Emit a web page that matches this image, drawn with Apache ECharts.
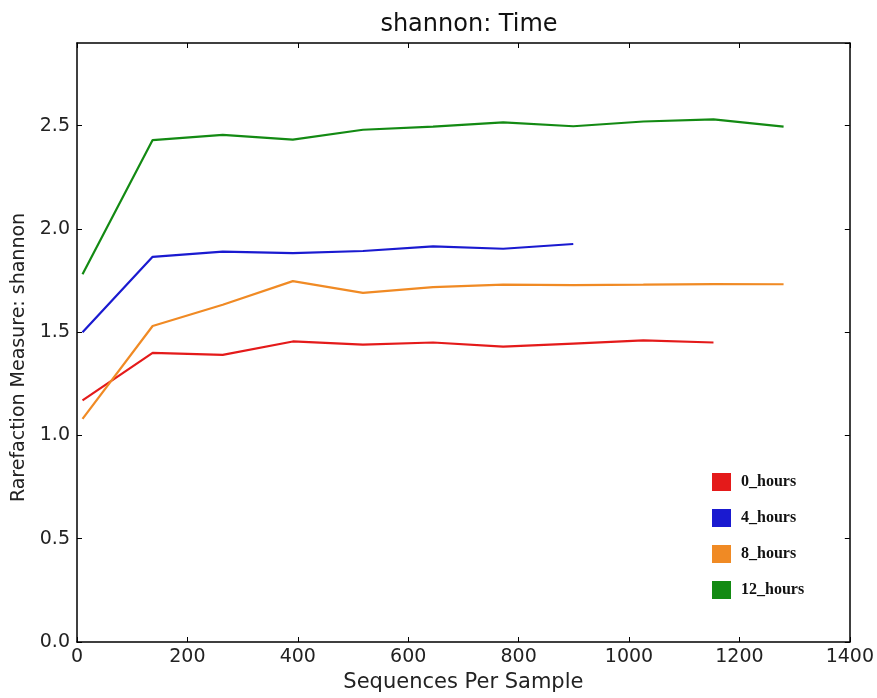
<!DOCTYPE html>
<html>
<head>
<meta charset="utf-8">
<script src="https://cdn.jsdelivr.net/npm/echarts@6/dist/echarts.min.js"></script>
<style>html,body{margin:0;padding:0;background:#fff}#c{width:877px;height:698px}</style>
</head>
<body>
<div id="c"></div>
<script>
var xValues = [10, 137, 264, 391, 518, 645, 772, 899, 1026, 1153, 1280];
var seriesNames = ['0_hours', '4_hours', '8_hours', '12_hours'];
var hours0 = [1.17, 1.40, 1.39, 1.455, 1.44, 1.45, 1.43, 1.445, 1.46, 1.45];
var hours4 = [1.50, 1.865, 1.89, 1.883, 1.893, 1.915, 1.904, 1.927];
var hours8 = [1.08, 1.53, 1.633, 1.747, 1.69, 1.718, 1.73, 1.728, 1.73, 1.733, 1.732];
var hours12 = [1.78, 2.43, 2.455, 2.432, 2.48, 2.495, 2.516, 2.497, 2.52, 2.53, 2.495];
var seriesColors = ['#e41a1a', '#1a1ad0', '#f08a24', '#138a13'];

function pairs(vals) { return vals.map(function (v, i) { return [xValues[i], v]; }); }
var allVals = [hours0, hours4, hours8, hours12];

var chart = echarts.init(document.getElementById('c'));
var labelFont = { fontFamily: 'DejaVu Sans', fontSize: 19, color: '#222' };
var line = { show: true, onZero: false, lineStyle: { color: '#000', width: 1.5 } };
var tick = { show: true, inside: true, length: 5, lineStyle: { color: '#000', width: 1 } };

chart.setOption({
  animation: false,
  backgroundColor: '#fff',
  title: {
    text: 'shannon: Time', left: 464, top: 8, textAlign: 'center',
    textStyle: { fontFamily: 'DejaVu Sans', fontSize: 24, fontWeight: 'normal', color: '#111' }
  },
  grid: { left: 77, right: 24, top: 43, bottom: 55, containLabel: false },
  legend: {
    orient: 'vertical', left: 707, top: 468, itemWidth: 19, itemHeight: 18, itemGap: 18,
    icon: 'rect', data: seriesNames,
    textStyle: { fontFamily: 'Liberation Serif', fontWeight: 'bold', fontSize: 16, color: '#111', padding: [0, 0, 0, 5] }
  },
  xAxis: [{
    type: 'value', min: 0, max: 1400, interval: 200, position: 'bottom',
    name: 'Sequences Per Sample', nameLocation: 'middle', nameGap: 30,
    nameTextStyle: { fontFamily: 'DejaVu Sans', fontSize: 21, color: '#222' },
    axisLabel: Object.assign({ margin: 6, formatter: function (v) { return String(v); } }, labelFont),
    axisLine: line, axisTick: tick, splitLine: { show: false }
  }, {
    type: 'value', min: 0, max: 1400, interval: 200, position: 'top',
    axisLabel: { show: false }, axisLine: line, axisTick: tick, splitLine: { show: false }
  }],
  yAxis: [{
    type: 'value', min: 0, max: 2.9, interval: 0.5, position: 'left',
    name: 'Rarefaction Measure: shannon', nameLocation: 'middle', nameGap: 45,
    nameTextStyle: { fontFamily: 'DejaVu Sans', fontSize: 19, color: '#222', padding: [0, 30, 0, 0] },
    axisLabel: Object.assign({ margin: 7, showMaxLabel: false, formatter: function (v) { return v.toFixed(1); } }, labelFont),
    axisLine: line, axisTick: tick, splitLine: { show: false }
  }, {
    type: 'value', min: 0, max: 2.9, interval: 0.5, position: 'right',
    axisLabel: { show: false }, axisLine: line, axisTick: tick, splitLine: { show: false }
  }],
  series: seriesNames.map(function (n, i) {
    return {
      name: n, type: 'line', xAxisIndex: 0, yAxisIndex: 0,
      data: pairs(allVals[i]), showSymbol: false, symbol: 'none',
      lineStyle: { color: seriesColors[i], width: 2.2 },
      itemStyle: { color: seriesColors[i] }
    };
  })
});
</script>
</body>
</html>
